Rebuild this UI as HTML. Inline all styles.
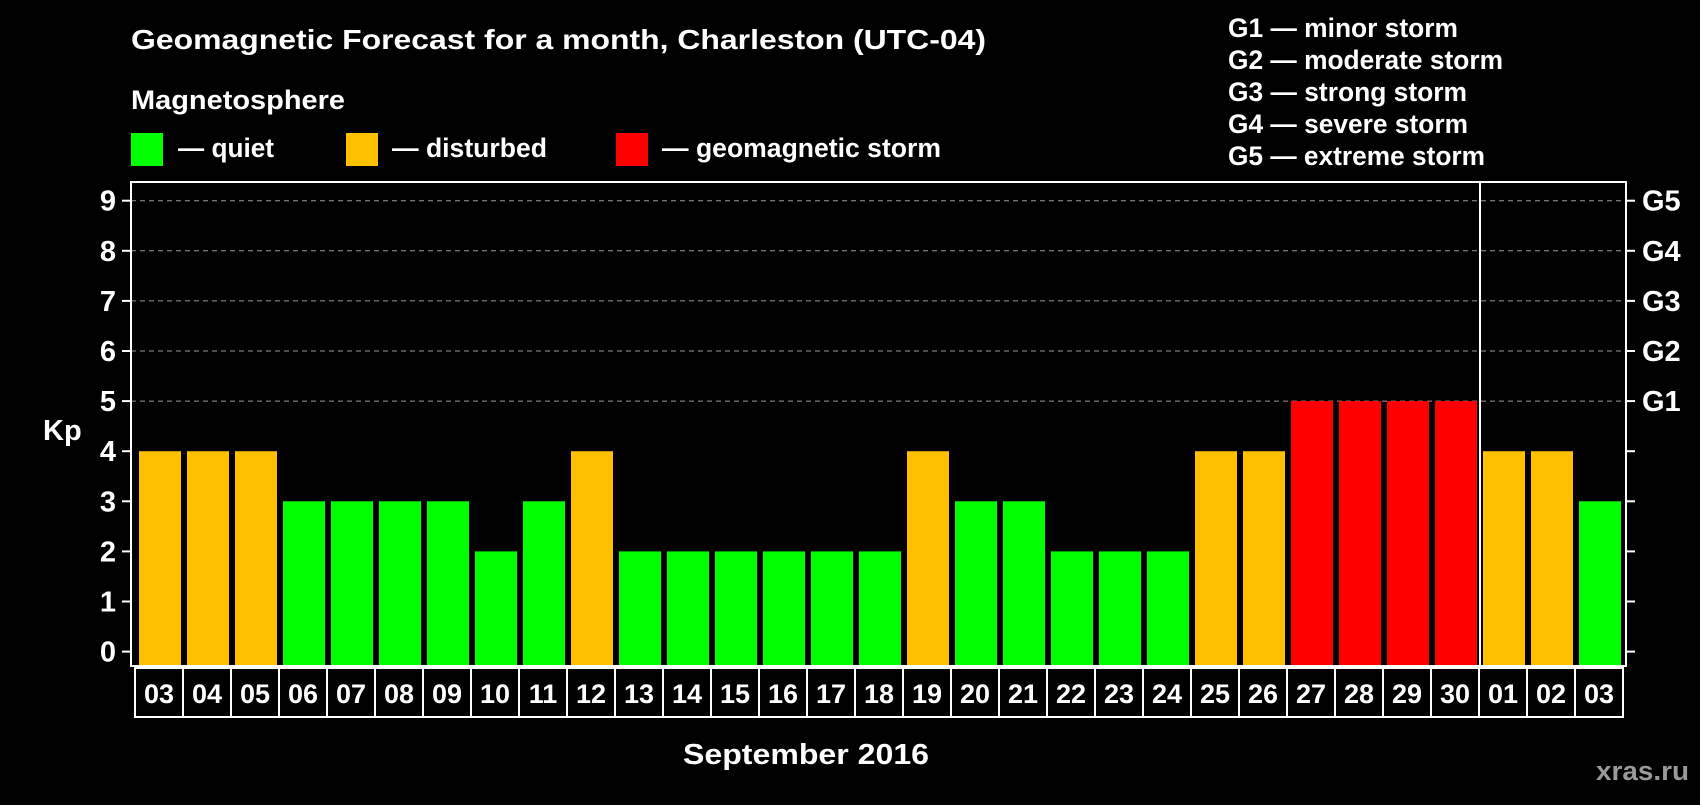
<!DOCTYPE html>
<html><head><meta charset="utf-8"><style>
body{margin:0;background:#000;width:1700px;height:800px;overflow:hidden;font-family:"Liberation Sans",Arial,sans-serif;font-weight:bold;color:#fff}
svg text{font-family:"Liberation Sans",Arial,sans-serif;font-weight:bold;fill:#fff}
</style></head><body>
<svg id="chart" width="1700" height="800" xmlns="http://www.w3.org/2000/svg">
<rect width="1700" height="800" fill="#000"/>
<text x="131" y="49" font-size="28" textLength="855" lengthAdjust="spacingAndGlyphs">Geomagnetic Forecast for a month, Charleston (UTC-04)</text>
<text x="131" y="109" font-size="27" textLength="214" lengthAdjust="spacingAndGlyphs">Magnetosphere</text>
<g><rect x="131" y="133" width="32" height="33" fill="#00ff00"/><text x="178" y="157" font-size="27" textLength="96" lengthAdjust="spacingAndGlyphs">— quiet</text></g>
<g><rect x="346" y="133" width="32" height="33" fill="#ffc000"/><text x="392" y="157" font-size="27" textLength="155" lengthAdjust="spacingAndGlyphs">— disturbed</text></g>
<g><rect x="616" y="133" width="32" height="33" fill="#ff0000"/><text x="662" y="157" font-size="27" textLength="279" lengthAdjust="spacingAndGlyphs">— geomagnetic storm</text></g>
<g font-size="27">
<text x="1228" y="37" textLength="230" lengthAdjust="spacingAndGlyphs">G1 — minor storm</text>
<text x="1228" y="69" textLength="275" lengthAdjust="spacingAndGlyphs">G2 — moderate storm</text>
<text x="1228" y="101" textLength="239" lengthAdjust="spacingAndGlyphs">G3 — strong storm</text>
<text x="1228" y="133" textLength="240" lengthAdjust="spacingAndGlyphs">G4 — severe storm</text>
<text x="1228" y="165" textLength="257" lengthAdjust="spacingAndGlyphs">G5 — extreme storm</text>
</g>
<text x="43" y="440" font-size="29">Kp</text>
<g id="grid"></g><g id="bars"></g><g id="axes"></g>
<text x="683" y="764" font-size="29" textLength="246" lengthAdjust="spacingAndGlyphs">September 2016</text>
<text x="1596" y="780" font-size="27" textLength="93" lengthAdjust="spacingAndGlyphs" style="fill:#999">xras.ru</text>
</svg>
<script>
const days=["03","04","05","06","07","08","09","10","11","12","13","14","15","16","17","18","19","20","21","22","23","24","25","26","27","28","29","30","01","02","03"];
const kp=[4,4,4,3,3,3,3,2,3,4,2,2,2,2,2,2,4,3,3,2,2,2,4,4,5,5,5,5,4,4,3];
const yTicks=[0,1,2,3,4,5,6,7,8,9];
const gLabels=["G1","G2","G3","G4","G5"];
const NS="http://www.w3.org/2000/svg";
const L=131,R=1626,T=182,B=666,x0=139,pitch=48,bw=42;
const y=v=>651.6-v*50.1;
const x=i=>x0+i*pitch;
function mk(p,tag,at){const e=document.createElementNS(NS,tag);for(const k in at)e.setAttribute(k,at[k]);p.appendChild(e);return e;}
const grid=document.getElementById('grid'),bars=document.getElementById('bars'),axes=document.getElementById('axes');
for(let v=5;v<=9;v++){const l=mk(grid,'line',{x1:L,x2:R,y1:y(v),y2:y(v),stroke:'#999','stroke-dasharray':'5,4','stroke-width':1});

}
kp.forEach((v,i)=>{const c=v>=5?'#ff0000':v>=4?'#ffc000':'#00ff00';
const r=mk(bars,'rect',{x:x(i),y:y(v),width:bw,height:B-y(v),fill:c});

});
const fr=mk(axes,'rect',{x:L,y:T,width:R-L,height:B-T,fill:'none',stroke:'#fff','stroke-width':2});


const sep=mk(axes,'line',{x1:x(28)-3,x2:x(28)-3,y1:T,y2:B,stroke:'#fff','stroke-width':2});


yTicks.forEach(v=>{mk(axes,'line',{x1:L-9,x2:L,y1:y(v),y2:y(v),stroke:'#fff','stroke-width':2});
mk(axes,'line',{x1:R,x2:R+9,y1:y(v),y2:y(v),stroke:'#fff','stroke-width':2});
const t=mk(axes,'text',{x:116,y:y(v)+10,'font-size':29,'text-anchor':'end'});t.textContent=v;

});
gLabels.forEach((g,i)=>{const t=mk(axes,'text',{x:1642,y:y(5+i)+10,'font-size':29});t.textContent=g;

});
days.forEach((d,i)=>{const cx=135+i*pitch;
mk(axes,'rect',{x:cx,y:668,width:pitch,height:49,fill:'none',stroke:'#fff','stroke-width':2});
const t=mk(axes,'text',{x:cx+pitch/2,y:703,'font-size':27,'text-anchor':'middle'});t.textContent=d;

});
</script>
</body></html>
